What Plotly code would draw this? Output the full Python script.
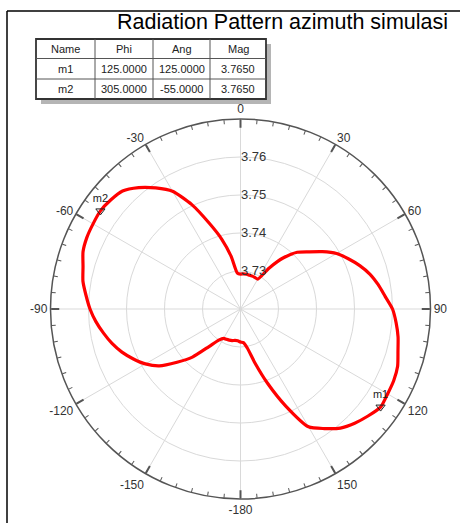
import plotly.graph_objects as go

# Azimuth sweep: phi in degrees and gain magnitude
phi_deg = [0, 5, 10, 15, 20, 25, 30, 35, 40, 45, 50, 55, 60, 65, 70, 75, 80, 85,
           90, 95, 100, 105, 110, 115, 120, 125, 130, 135, 140, 145, 150, 155, 160, 165,
           170, 175, 180, 185, 190, 195, 200, 205, 210, 215, 220, 225, 230, 235, 240, 245,
           250, 255, 260, 265, 270, 275, 280, 285, 290, 295, 300, 305, 310, 315, 320, 325,
           330, 335, 340, 345, 350, 355, 360]
mag = [3.7292, 3.7293, 3.7293, 3.7292, 3.7292, 3.7291, 3.7291, 3.7332, 3.7376, 3.7411,
       3.7434, 3.7463, 3.7492, 3.7513, 3.7534, 3.7553, 3.7568, 3.7582, 3.7600, 3.7611,
       3.7621, 3.7629, 3.7640, 3.7645, 3.7647, 3.7650, 3.7638, 3.7625, 3.7609, 3.7584,
       3.7558, 3.7482, 3.7408, 3.7347, 3.7305, 3.7289, 3.7287, 3.7284, 3.7284, 3.7286,
       3.7287, 3.7288, 3.7289, 3.7300, 3.7329, 3.7379, 3.7418, 3.7461, 3.7489, 3.7511,
       3.7532, 3.7550, 3.7566, 3.7582, 3.7596, 3.7608, 3.7621, 3.7629, 3.7641, 3.7646,
       3.7648, 3.7650, 3.7646, 3.7639, 3.7617, 3.7589, 3.7558, 3.7503, 3.7440, 3.7390,
       3.7340, 3.7295, 3.7292]

# Marker table
marker_names = ["m1", "m2"]
marker_phi = [125.0, 305.0]
marker_ang = [125.0, -55.0]
marker_mag = [3.765, 3.765]
table_header = ["Name", "Phi", "Ang", "Mag"]

# Axis ticks
angle_ticks = [0, 30, 60, 90, 120, 150, 180, 210, 240, 270, 300, 330]
angle_labels = ["0", "30", "60", "90", "120", "150", "-180", "-150", "-120", "-90", "-60", "-30"]
minor_ticks = list(range(0, 360, 5))
radial_ticks = [3.73, 3.74, 3.75, 3.76]
radial_range = [3.72, 3.77]

W, H = 460, 523
FONT = "Liberation Sans, Arial, sans-serif"


def px(x):
    return x / W


def py(y):
    return 1 - y / H


fig = go.Figure()

fig.add_trace(go.Scatterpolar(
    r=mag, theta=phi_deg, mode="lines",
    line=dict(color="#ff0000", width=3.2, shape="spline", smoothing=0.6),
    subplot="polar", showlegend=False, hoverinfo="skip",
))

fig.add_trace(go.Scatterpolar(
    r=marker_mag, theta=marker_phi, mode="markers+text",
    text=marker_names, textposition="top center",
    textfont=dict(family=FONT, size=11, color="#222"),
    marker=dict(symbol="triangle-down-open", size=8, color="#222",
                line=dict(width=1, color="#222")),
    subplot="polar", showlegend=False, hoverinfo="skip",
))

cx, cy, R = 240.5, 309.0, 190.0
dom = dict(x=[px(cx - R), px(cx + R)], y=[py(cy + R), py(cy - R)])

fig.update_layout(
    width=W, height=H,
    margin=dict(l=0, r=0, t=0, b=0),
    paper_bgcolor="white",
    font=dict(family=FONT, color="#333"),
    polar=dict(
        domain=dom,
        bgcolor="white",
        angularaxis=dict(
            rotation=90, direction="clockwise",
            tickmode="array", tickvals=angle_ticks, ticktext=angle_labels,
            tickfont=dict(family=FONT, size=12, color="#333"),
            ticks="inside", ticklen=8, tickwidth=1.5, tickcolor="#555",
            showline=True, linecolor="#555", linewidth=1.5,
            showgrid=True, gridcolor="#d9d9d9", gridwidth=1,
        ),
        radialaxis=dict(
            range=radial_range, angle=90, side="clockwise",
            tickmode="array", tickvals=radial_ticks,
            ticktext=[f"{v:.2f}" for v in radial_ticks],
            tickfont=dict(family=FONT, size=13, color="#333"),
            tickangle=90,
            showline=False, ticks="",
            showgrid=True, gridcolor="#d9d9d9", gridwidth=1,
        ),
    ),
    polar2=dict(
        domain=dom,
        bgcolor="rgba(0,0,0,0)",
        angularaxis=dict(
            rotation=90, direction="clockwise",
            tickmode="array", tickvals=minor_ticks,
            showticklabels=False,
            ticks="inside", ticklen=4, tickwidth=1, tickcolor="#555",
            showline=False, showgrid=False,
        ),
        radialaxis=dict(range=radial_range, visible=False),
    ),
)

# empty trace so the tick-only subplot is rendered
fig.add_trace(go.Scatterpolar(r=[], theta=[], subplot="polar2",
                              showlegend=False, hoverinfo="skip"))

shapes = []
annotations = []

# outer frame
shapes.append(dict(type="line", xref="paper", yref="paper",
                   x0=px(7), x1=px(7), y0=py(11), y1=py(530),
                   line=dict(color="black", width=1.5)))
shapes.append(dict(type="line", xref="paper", yref="paper",
                   x0=px(7), x1=px(470), y0=py(11), y1=py(11),
                   line=dict(color="black", width=1.5)))

# title
annotations.append(dict(text="Radiation Pattern azimuth simulasi",
                        xref="paper", yref="paper", x=px(450), y=py(22),
                        xanchor="right", yanchor="middle", showarrow=False,
                        font=dict(family=FONT, size=21.5, color="black")))

# marker table
col_edges = [36, 95, 153, 210, 266]
row_edges = [39, 58.5, 79, 99]
shapes.append(dict(type="rect", xref="paper", yref="paper",
                   x0=px(col_edges[0] + 5), x1=px(col_edges[-1] + 5),
                   y0=py(row_edges[0] + 5), y1=py(row_edges[-1] + 5),
                   fillcolor="#b5b5b5", line=dict(width=0)))
shapes.append(dict(type="rect", xref="paper", yref="paper",
                   x0=px(col_edges[0]), x1=px(col_edges[-1]),
                   y0=py(row_edges[0]), y1=py(row_edges[-1]),
                   fillcolor="white", line=dict(color="#333", width=1.8)))
for xe in col_edges[1:-1]:
    shapes.append(dict(type="line", xref="paper", yref="paper",
                       x0=px(xe), x1=px(xe), y0=py(row_edges[0]), y1=py(row_edges[-1]),
                       line=dict(color="#555", width=1)))
for ye in row_edges[1:-1]:
    shapes.append(dict(type="line", xref="paper", yref="paper",
                       x0=px(col_edges[0]), x1=px(col_edges[-1]), y0=py(ye), y1=py(ye),
                       line=dict(color="#555", width=1)))

rows = [table_header] + [
    [n, f"{p:.4f}", f"{a:.4f}", f"{m:.4f}"]
    for n, p, a, m in zip(marker_names, marker_phi, marker_ang, marker_mag)
]
for ri, row in enumerate(rows):
    yc = (row_edges[ri] + row_edges[ri + 1]) / 2
    for ci, cell in enumerate(row):
        xc = (col_edges[ci] + col_edges[ci + 1]) / 2
        annotations.append(dict(text=cell, xref="paper", yref="paper",
                                x=px(xc), y=py(yc), xanchor="center", yanchor="middle",
                                showarrow=False,
                                font=dict(family=FONT, size=11, color="#222")))

fig.update_layout(shapes=shapes, annotations=annotations)

fig.write_html("out.html")
